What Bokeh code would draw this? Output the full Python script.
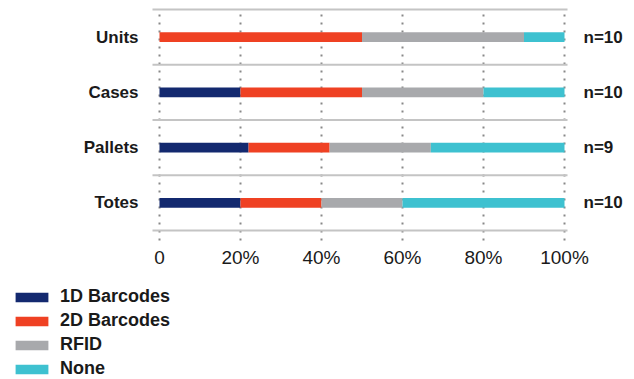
from bokeh.plotting import figure
from bokeh.models import ColumnDataSource, Range1d, Legend, LegendItem
from bokeh.core.properties import value
from bokeh.embed import file_html
from bokeh.resources import INLINE

# Share of each identification method per packaging level (percent)
categories = ["Units", "Cases", "Pallets", "Totes"]
one_d_barcodes = [0, 20, 22, 20]
two_d_barcodes = [50, 30, 20, 20]
rfid = [40, 30, 25, 20]
none = [10, 20, 33, 40]
sample_sizes = [10, 10, 9, 10]

series_names = ["1D Barcodes", "2D Barcodes", "RFID", "None"]
series_colors = ["#13296f", "#ef4123", "#a8a9ac", "#3ec1d0"]

tick_values = [0, 20, 40, 60, 80, 100]
tick_labels = ["0", "20%", "40%", "60%", "80%", "100%"]

FONT = value("Liberation Sans")
TEXT_COLOR = "#1a1a1a"
GRID_COLOR = "#888888"
RULE_COLOR = "#c4c4c4"

# Canvas geometry: the plot frame fills the whole canvas, so the scale
# factors below turn pixel gaps into data-space distances.
W, H = 634, 379
X_ZERO_PX = 159          # where 0 % sits
X_SCALE = 4.05           # pixels per percentage point
TOP_PX = 9               # top rule
ROW_PX = 55.25           # height of one row band

n_rows = len(categories)
row_centers = [n_rows - i - 0.5 for i in range(n_rows)]
totals = [a + b + c + d for a, b, c, d in zip(one_d_barcodes, two_d_barcodes, rfid, none)]

x_range = Range1d(-X_ZERO_PX / X_SCALE, (W - X_ZERO_PX) / X_SCALE)
y_top = n_rows + TOP_PX / ROW_PX
y_range = Range1d(y_top - H / ROW_PX, y_top)

def px_x(d):
    return d / X_SCALE

def px_y(d):
    return d / ROW_PX

source = ColumnDataSource(data={
    "row": row_centers,
    "category": categories,
    "total": totals,
    "n_label": [f"n={n}" for n in sample_sizes],
    "1D Barcodes": one_d_barcodes,
    "2D Barcodes": two_d_barcodes,
    "RFID": rfid,
    "None": none,
})

p = figure(width=W, height=H, x_range=x_range, y_range=y_range,
           output_backend="svg", toolbar_location=None,
           x_axis_location=None, y_axis_location=None, min_border=0)
p.outline_line_color = None
p.grid.visible = False
p.background_fill_color = "white"
p.border_fill_color = "white"

# dotted vertical guides at each tick, running just past the bottom rule
p.segment(x0=tick_values, x1=tick_values,
          y0=[-px_y(10)] * len(tick_values), y1=[n_rows] * len(tick_values),
          line_color=GRID_COLOR, line_width=2, line_dash="2 6")

# horizontal rules between the rows
rule_y = list(range(n_rows + 1))
p.segment(x0=[-px_x(7)] * len(rule_y), x1=[100 + px_x(3)] * len(rule_y),
          y0=rule_y, y1=rule_y, line_color=RULE_COLOR, line_width=2)

renderers = p.hbar_stack(series_names, y="row", height=0.18,
                         color=series_colors, source=source, line_width=0)

# row names on the left
p.text(x=-px_x(21), y="row", text="category", source=source,
       text_align="right", text_baseline="middle",
       text_font=FONT, text_font_style="bold", text_font_size=value("17px"),
       text_color=TEXT_COLOR)

# sample sizes on the right
p.text(x="total", y="row", text="n_label", source=source,
       x_offset=19, text_align="left", text_baseline="middle",
       text_font=FONT, text_font_style="bold", text_font_size=value("17px"),
       text_color=TEXT_COLOR)

# percentage tick labels under the chart
p.text(x=tick_values, y=[-px_y(27)] * len(tick_values), text=tick_labels,
       text_align="center", text_baseline="middle",
       text_font=FONT, text_font_size=value("19px"), text_color=TEXT_COLOR)

legend = Legend(
    items=[LegendItem(label=name, renderers=[r])
           for name, r in zip(series_names, renderers)],
    location=(11, 0),
    orientation="vertical",
    padding=0, margin=0, spacing=3,
    glyph_width=41, glyph_height=12, label_height=18, label_standoff=8,
    label_text_font="Liberation Sans", label_text_font_style="bold",
    label_text_font_size="18px", label_text_color=TEXT_COLOR,
    border_line_color=None, background_fill_alpha=0,
)
p.add_layout(legend)

open("out.html", "w").write(file_html(p, INLINE))
